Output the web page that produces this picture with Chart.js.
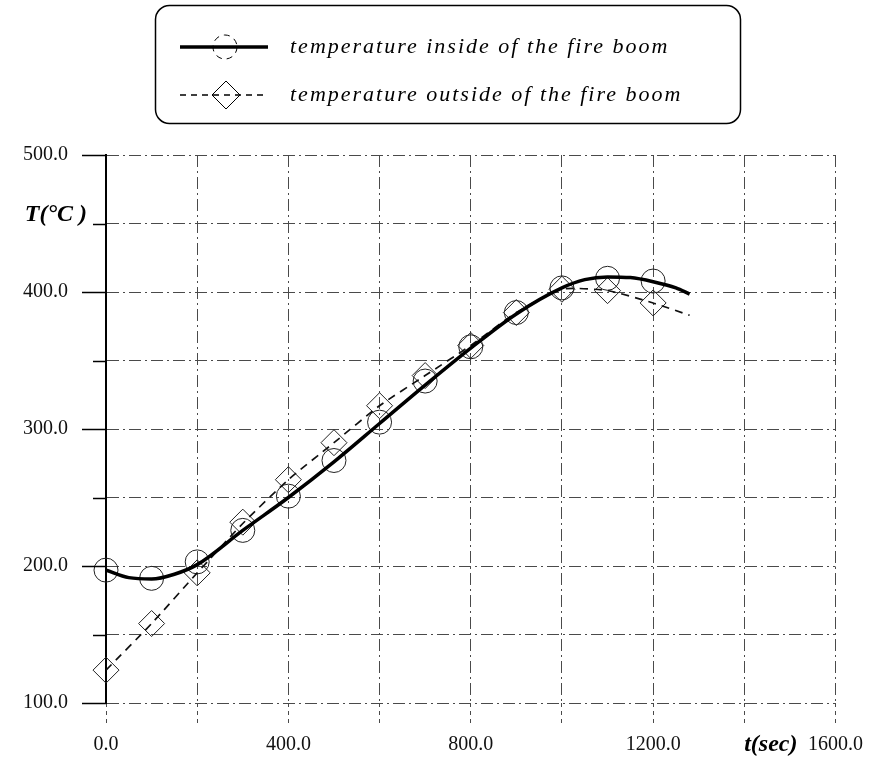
<!DOCTYPE html>
<html lang="en">
<head>
  <meta charset="UTF-8">
  <title>Fire boom temperature</title>
  <script src="https://cdn.jsdelivr.net/npm/chart.js"></script>
  <style>
    html, body { margin: 0; padding: 0; background: #fff; }
    #wrap { width: 873px; height: 759px; }
  </style>
</head>
<body>
  <div id="wrap"><canvas id="chart"></canvas></div>
  <script>
    // measured points, t in seconds, T in degrees C
    const timeSec = [0, 100, 200, 300, 400, 500, 600, 700, 800, 900, 1000, 1100, 1200];
    const insideTemp = [197, 191, 203, 226, 251, 277, 305, 335, 360, 385, 403, 410, 408];
    const outsideTemp = [124, 158, 195, 232, 263, 290, 317, 339, 361, 385, 402, 401, 392];

    // fitted curves through the measurements
    const insideFitTime = [0, 50, 100, 150, 200, 300, 400, 500, 600, 700, 800, 900, 1000, 1050, 1100, 1150, 1200, 1250, 1280];
    const insideFitTemp = [197, 191.5, 190.5, 194, 201, 226, 250, 276, 304, 332, 359, 384, 403, 409, 411, 410.5, 407.5, 403, 398.5];
    const outsideFitTime = [0, 100, 200, 300, 400, 500, 600, 700, 800, 900, 1000, 1100, 1200, 1280];
    const outsideFitTemp = [124, 158, 195, 231, 263, 290, 317, 339, 361, 385, 402, 401, 392, 383];

    const xTicks = [0, 200, 400, 600, 800, 1000, 1200, 1400, 1600];
    const xTickLabels = ['0.0', '', '400.0', '', '800.0', '', '1200.0', '', '1600.0'];
    const yTicks = [100, 150, 200, 250, 300, 350, 400, 450, 500];
    const yTickLabels = ['100.0', '', '200.0', '', '300.0', '', '400.0', '', '500.0'];

    const legendLabels = ['temperature inside of the fire boom', 'temperature outside of the fire boom'];
    const xTitle = 't(sec)';
    const yTitle = 'T(\u00B0C )';

    const SERIF = "'Liberation Serif', 'Times New Roman', serif";
    const GRID = '#4a4a4a';
    const DASH = [12, 4, 2, 4];

    const pts = (xs, ys) => xs.map((x, i) => ({ x, y: ys[i] }));

    // y tick marks, axis titles and the boxed legend
    const decor = {
      id: 'decor',
      afterDraw(chart) {
        const { ctx, scales: { x, y } } = chart;
        const left = chart.chartArea.left;
        ctx.save();

        ctx.strokeStyle = '#000';
        ctx.lineWidth = 1.5;
        yTicks.forEach(v => {
          const py = Math.round(y.getPixelForValue(v)) + 0.5;
          const len = v % 100 === 0 ? 24 : 13;
          ctx.beginPath();
          ctx.moveTo(left - len, py);
          ctx.lineTo(left, py);
          ctx.stroke();
        });

        ctx.fillStyle = '#000';
        ctx.font = 'italic bold 24px ' + SERIF;
        ctx.textBaseline = 'middle';
        ctx.textAlign = 'right';
        ctx.fillText(yTitle, left - 19, y.getPixelForValue(450) - 9);
        ctx.fillText(xTitle, x.getPixelForValue(1600) - 38, chart.chartArea.bottom + 42);

        // legend box
        const bx = 155.5, by = 5.5, bw = 585, bh = 118;
        ctx.lineWidth = 1.5;
        ctx.beginPath();
        ctx.roundRect(bx, by, bw, bh, 14);
        ctx.stroke();

        const rows = [47, 95];
        // solid line with circle
        ctx.lineWidth = 3.5;
        ctx.beginPath();
        ctx.moveTo(180, rows[0]);
        ctx.lineTo(268, rows[0]);
        ctx.stroke();
        ctx.lineWidth = 1;
        ctx.setLineDash([6, 5]);
        ctx.beginPath();
        ctx.arc(225, rows[0], 12, 0, Math.PI * 2);
        ctx.stroke();
        // dashed line with diamond
        ctx.lineWidth = 1.5;
        ctx.beginPath();
        ctx.moveTo(180, rows[1]);
        ctx.lineTo(268, rows[1]);
        ctx.stroke();
        ctx.setLineDash([]);
        ctx.lineWidth = 1;
        ctx.beginPath();
        ctx.moveTo(226, rows[1] - 14);
        ctx.lineTo(240, rows[1]);
        ctx.lineTo(226, rows[1] + 14);
        ctx.lineTo(212, rows[1]);
        ctx.closePath();
        ctx.stroke();

        ctx.font = 'italic 22px ' + SERIF;
        ctx.textAlign = 'left';
        ctx.letterSpacing = '2px';
        legendLabels.forEach((t, i) => ctx.fillText(t, 290, rows[i]));
        ctx.restore();
      }
    };

    new Chart(document.getElementById('chart'), {
      type: 'line',
      data: {
        datasets: [
          {
            label: 'inside fit',
            data: pts(insideFitTime, insideFitTemp),
            borderColor: '#000',
            borderWidth: 3.5,
            pointRadius: 0,
            cubicInterpolationMode: 'monotone',
            fill: false
          },
          {
            label: 'outside fit',
            data: pts(outsideFitTime, outsideFitTemp),
            borderColor: '#111',
            borderWidth: 1.7,
            borderDash: [8, 6],
            pointRadius: 0,
            tension: 0.2,
            fill: false
          },
          {
            label: legendLabels[0],
            data: pts(timeSec, insideTemp),
            showLine: false,
            clip: false,
            pointStyle: 'circle',
            pointRadius: 12,
            pointBorderWidth: 1,
            pointBorderColor: '#222',
            pointBackgroundColor: 'rgba(0,0,0,0)'
          },
          {
            label: legendLabels[1],
            data: pts(timeSec, outsideTemp),
            showLine: false,
            clip: false,
            pointStyle: 'rectRot',
            pointRadius: 13,
            pointBorderWidth: 1,
            pointBorderColor: '#222',
            pointBackgroundColor: 'rgba(0,0,0,0)'
          }
        ]
      },
      options: {
        responsive: true,
        maintainAspectRatio: false,
        animation: false,
        layout: { padding: { top: 155, right: 37, left: 0, bottom: 0 } },
        plugins: { legend: { display: false }, tooltip: { enabled: false } },
        scales: {
          x: {
            type: 'linear',
            min: 0,
            max: 1600,
            afterBuildTicks: s => { s.ticks = xTicks.map(v => ({ value: v })); },
            afterFit: s => { s.height = 56; },
            grid: {
              color: GRID,
              lineWidth: 1,
              drawTicks: true,
              tickLength: 20,
              tickColor: GRID,
              tickBorderDash: [4, 4]
            },
            border: { display: false, dash: DASH },
            ticks: {
              autoSkip: false,
              maxRotation: 0,
              padding: 10,
              color: '#111',
              font: { family: SERIF, size: 20 },
              callback: v => xTickLabels[xTicks.indexOf(v)]
            }
          },
          y: {
            min: 100,
            max: 500,
            afterBuildTicks: s => { s.ticks = yTicks.map(v => ({ value: v })); },
            afterFit: s => { s.width = 106; },
            grid: { color: GRID, lineWidth: 1, drawTicks: false },
            border: { display: true, color: '#000', width: 2, dash: DASH },
            ticks: {
              padding: 38,
              color: '#111',
              font: { family: SERIF, size: 20 },
              callback: v => yTickLabels[yTicks.indexOf(v)]
            }
          }
        }
      },
      plugins: [decor]
    });
  </script>
</body>
</html>
